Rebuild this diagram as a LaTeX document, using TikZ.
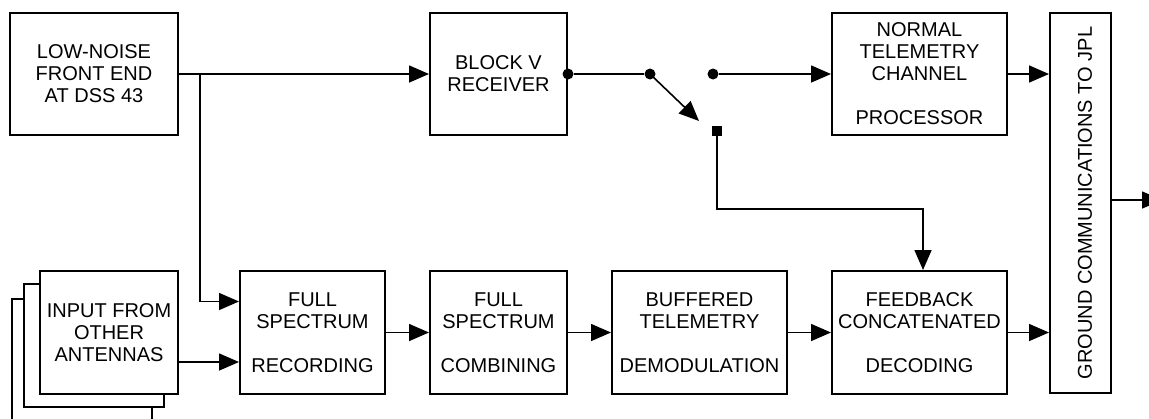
\documentclass[tikz,border=0pt]{standalone}
\usepackage{fontspec}
\setmainfont{Liberation Sans}
\usetikzlibrary{arrows.meta}

\begin{document}
\begin{tikzpicture}[x=0.5pt,y=-0.5pt,
  blk/.style={draw, line width=1pt, fill=white, inner sep=0pt, align=center,
    minimum height=61pt, font=\fontsize{10}{11}\selectfont},
  arr/.style={line width=0.8pt, -{Triangle[length=10pt,width=8.5pt]}},
  wire/.style={line width=0.8pt},
  dot/.style={circle, fill, inner sep=0pt, minimum size=5.5pt},
  sq/.style={rectangle, fill, inner sep=0pt, minimum size=5pt}]
  \useasboundingbox (0,0) rectangle (1149,418);

  % top row
  \node[blk, minimum width=84pt] (lna) at (94,74) {LOW-NOISE\\FRONT END\\AT DSS 43};
  \node[blk, minimum width=68.5pt] (blockv) at (498.5,74) {BLOCK V\\RECEIVER};
  \node[blk, minimum width=87.5pt] (ntc) at (919.5,74) {NORMAL\\TELEMETRY\\CHANNEL\\[11pt]PROCESSOR};
  \node[blk, minimum width=30.5pt, minimum height=190pt] (gcj) at (1080.5,203) {};
  \node[rotate=90, inner sep=0pt, font=\fontsize{10}{11}\selectfont] (gcjtxt) at (1085,203) {GROUND COMMUNICATIONS TO JPL};

  % other antennas (stacked)
  \draw[line width=1pt, fill=white] (12,299) rectangle (152,430);
  \draw[line width=1pt, fill=white] (24,284) rectangle (164,407);

  % bottom row
  \node[blk, minimum width=69pt, minimum height=61.5pt] (input) at (109,332.5) {INPUT FROM\\OTHER\\ANTENNAS};
  \node[blk, minimum width=72.5pt, minimum height=61.5pt] (fsr) at (312.5,332.5) {FULL\\SPECTRUM\\[11pt]RECORDING};
  \node[blk, minimum width=68.5pt, minimum height=61.5pt] (fsc) at (498.5,332.5) {FULL\\SPECTRUM\\[11pt]COMBINING};
  \node[blk, minimum width=87.5pt, minimum height=61.5pt] (btd) at (699.5,332.5) {BUFFERED\\TELEMETRY\\[11pt]DEMODULATION};
  \node[blk, minimum width=87.5pt, minimum height=61.5pt] (fcd) at (919.5,332.5) {FEEDBACK\\CONCATENATED\\[11pt]DECODING};

  % switch
  \node[dot] (rxout) at (blockv.east) {};
  \node[dot] (pivot) at (650,74) {};
  \node[dot] (normal) at (713,74) {};
  \node[sq] (fback) at (717,131) {};
  \coordinate (swtip) at (699,121);
  \coordinate (br) at (200,74);
  \coordinate (fbturn) at (717,209);
  \coordinate (out) at (1162,200);

  % connectors
  \draw[arr] (lna.east) -- (blockv.west);
  \draw[arr] (br) |- ([yshift=15.5pt]fsr.west);
  \draw[wire] (rxout) -- (pivot);
  \draw[arr] (pivot.center) -- (swtip);
  \draw[arr] (normal) -- (ntc.west);
  \draw[arr] (fback.center) -- (fbturn) -| ([xshift=1.75pt]fcd.north);
  \draw[arr] (ntc.east) -- (gcj.west |- ntc.east);
  \draw[arr] ([yshift=-14.75pt]input.east) -- ([yshift=-14.75pt]fsr.west);
  \draw[arr] (fsr.east) -- (fsc.west);
  \draw[arr] (fsc.east) -- (btd.west);
  \draw[arr] (btd.east) -- (fcd.west);
  \draw[arr] (fcd.east) -- (gcj.west |- fcd.east);
  \draw[arr] (gcj.east |- out) -- (out);
\end{tikzpicture}
\end{document}
